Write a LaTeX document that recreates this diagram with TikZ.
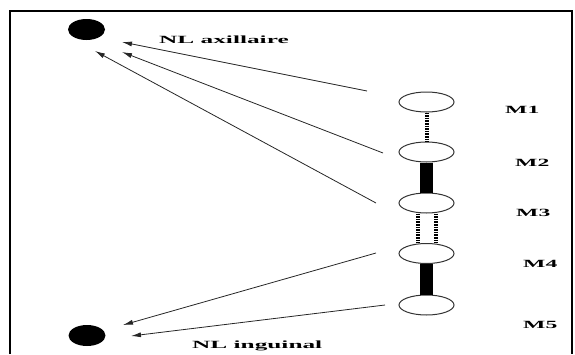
\documentclass[tikz,border=0pt]{standalone}
\usepackage{fontspec}
\setmainfont{Liberation Serif}
\usetikzlibrary{arrows.meta,shapes.geometric}
\begin{document}
\begin{tikzpicture}[x=1pt,y=-1pt,
  frame/.style={line width=2.2pt},
  node/.style={draw, ellipse, line width=1pt, draw=black!80, fill=white,
    minimum width=55pt, minimum height=20pt, inner sep=0pt},
  lnode/.style={fill=black, ellipse, minimum width=37pt, minimum height=21pt, inner sep=0pt},
  bar/.style={line width=13pt},
  coil/.style={line width=4pt, dash pattern=on 1.7pt off 0.9pt},
  flow/.style={line width=0.8pt, draw=black!85,
    -{Latex[length=10pt,width=5pt]}},
  lbl/.style={font=\fontsize{11}{12}\selectfont\bfseries, inner sep=0pt, anchor=base west}]
  \useasboundingbox (0,0) rectangle (575,354);
  % open frame: top, left and right sides
  \draw[frame] (10,354) -- (10,11) -- (572,11) -- (572,354);

  % lymph node groups
  \node[lnode] (axil) at (86.5,29.5) {};
  \node[lnode] (ingu) at (87,335.5) {};
  \node[lbl] (taxil) at (159,43) {\scalebox{2.3}[1]{NL axillaire}};
  \node[lbl] (tingu) at (192,348) {\scalebox{2.3}[1]{NL inguinal}};

  % the chain of glands M1..M5
  \node[node] (m1) at (426.5,102) {};
  \node[node] (m2) at (426.5,152) {};
  \node[node] (m3) at (426.5,203) {};
  \node[node] (m4) at (426.5,253.5) {};
  \node[node] (m5) at (426.5,305) {};

  \draw[coil] (m1.south) -- (m2.north);
  \draw[bar] (m2.south) -- (m3.north);
  \draw[coil] ([xshift=-8.5pt]m3.south) -- ([xshift=-8.5pt]m4.north);
  \draw[coil] ([xshift=9.5pt]m3.south) -- ([xshift=9.5pt]m4.north);
  \draw[bar] (m4.south) -- (m5.north);

  \node[lbl] (l1) at (505,113) {\scalebox{2.15}[1]{M1}};
  \node[lbl] (l2) at (515,166) {\scalebox{2.15}[1]{M2}};
  \node[lbl] (l3) at (516,216) {\scalebox{2.15}[1]{M3}};
  \node[lbl] (l4) at (523,267) {\scalebox{2.15}[1]{M4}};
  \node[lbl] (l5) at (523,328) {\scalebox{2.15}[1]{M5}};

  % drainage arrows
  \coordinate (s1) at (367,91);   \coordinate (e1) at (122,42);
  \coordinate (s2) at (383,153);  \coordinate (e2) at (122,52);
  \coordinate (s3) at (376,203);  \coordinate (e3) at (95,51);
  \coordinate (s4) at (376,253);  \coordinate (e4) at (123,325);
  \coordinate (s5) at (385,305);  \coordinate (e5) at (131,336);
  \draw[flow] (s1) -- (e1);
  \draw[flow] (s2) -- (e2);
  \draw[flow] (s3) -- (e3);
  \draw[flow] (s4) -- (e4);
  \draw[flow] (s5) -- (e5);
\end{tikzpicture}
\end{document}
